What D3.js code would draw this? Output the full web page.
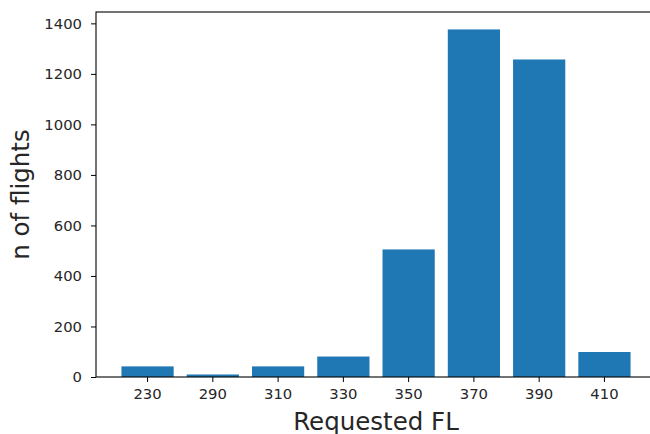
<!DOCTYPE html>
<html>
<head>
<meta charset="utf-8">
<script src="https://cdn.jsdelivr.net/npm/d3@7"></script>
<style>
  body { margin: 0; background: #fff; }
  text { font-family: "DejaVu Sans", sans-serif; fill: #262626; }
</style>
</head>
<body>
<div id="chart"></div>
<script>
const levels = ['230', '290', '310', '330', '350', '370', '390', '410'];
const flights = [42, 10, 42, 81, 505, 1376, 1257, 99];
const yTicks = [0, 200, 400, 600, 800, 1000, 1200, 1400];

const width = 650;
const height = 434;
const margin = { top: 12, right: -6, bottom: 57, left: 96 };

const svg = d3.select('#chart')
  .append('svg')
  .attr('width', width)
  .attr('height', height);

const x = d3.scaleBand()
  .domain(levels)
  .range([margin.left, width - margin.right])
  .paddingInner(0.2)
  .paddingOuter(0.39);

const y = d3.scaleLinear()
  .domain([0, 1445])
  .range([height - margin.bottom, margin.top]);

// bars
svg.selectAll('rect.bar')
  .data(levels)
  .enter()
  .append('rect')
  .attr('class', 'bar')
  .attr('x', d => x(d))
  .attr('width', x.bandwidth())
  .attr('y', (d, i) => y(flights[i]))
  .attr('height', (d, i) => y(0) - y(flights[i]))
  .attr('fill', '#1f77b4');

const xAxis = svg.append('g')
  .attr('transform', `translate(0, ${y(0)})`)
  .call(d3.axisBottom(x).tickSize(5).tickPadding(6).tickSizeOuter(0));

const yAxis = svg.append('g')
  .attr('transform', `translate(${margin.left}, 0)`)
  .call(d3.axisLeft(y).tickValues(yTicks).tickFormat(d3.format('d'))
    .tickSize(5).tickPadding(9).tickSizeOuter(0));

[xAxis, yAxis].forEach(g => {
  g.select('.domain').remove();
  g.selectAll('line').attr('stroke', '#000').attr('stroke-width', 1);
  g.selectAll('text').style('font-size', '14.8px').attr('fill', '#262626');
});

// frame
svg.append('rect')
  .attr('x', margin.left)
  .attr('y', margin.top)
  .attr('width', width - margin.right - margin.left)
  .attr('height', y(0) - margin.top)
  .attr('fill', 'none')
  .attr('stroke', '#000')
  .attr('stroke-width', 1.1);

svg.append('text')
  .attr('x', (margin.left + width - margin.right) / 2)
  .attr('y', 430)
  .attr('text-anchor', 'middle')
  .style('font-size', '24.5px')
  .text('Requested FL');

svg.append('text')
  .attr('transform', `translate(29, ${(margin.top + y(0)) / 2}) rotate(-90)`)
  .attr('text-anchor', 'middle')
  .style('font-size', '24.5px')
  .text('n of flights');
</script>
</body>
</html>
